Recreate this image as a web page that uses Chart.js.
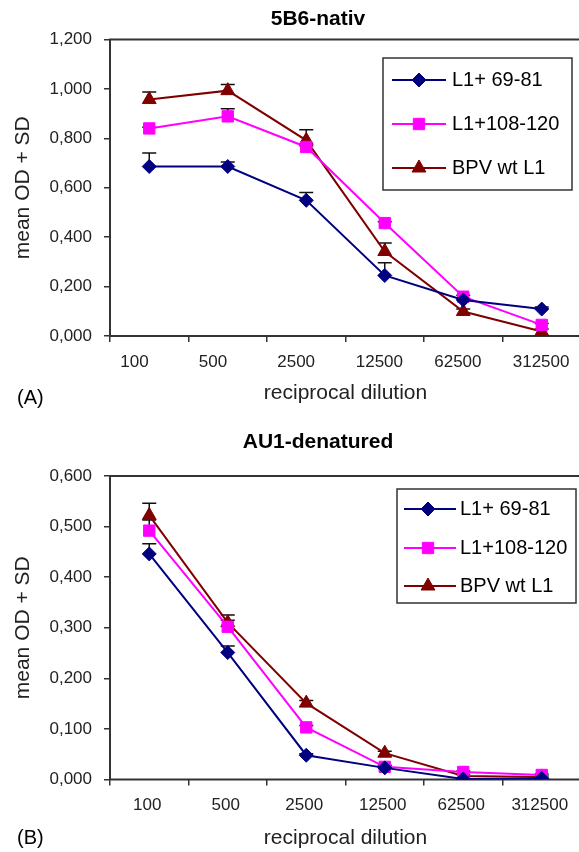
<!DOCTYPE html>
<html>
<head>
<meta charset="utf-8">
<script src="https://cdn.jsdelivr.net/npm/chart.js@4.4.1/dist/chart.umd.min.js"></script>
<style>
  html, body { margin: 0; padding: 0; background: #fff; overflow: hidden; width: 579px; height: 852px; }
  body { position: relative; font-family: "Liberation Sans", Arial, sans-serif; color: #000; }
  .panel { position: absolute; left: 0; width: 590px; }
  .title { position: absolute; left: 0; width: 636px; text-align: center; font-weight: bold; font-size: 21px; line-height: 24px; }
  .tag { position: absolute; left: 17px; font-size: 20px; line-height: 24px; }
</style>
</head>
<body>
<div class="panel" style="top:0;height:420px"><canvas id="chartA" width="590" height="420"></canvas></div>
<div class="panel" style="top:420px;height:432px"><canvas id="chartB" width="590" height="432"></canvas></div>
<div class="title" style="top:6px">5B6-nativ</div>
<div class="title" style="top:429px">AU1-denatured</div>
<div class="tag" style="top:385px">(A)</div>
<div class="tag" style="top:825px">(B)</div>

<script>
// categories + legend names
const dilutions = ['100', '500', '2500', '12500', '62500', '312500'];
const seriesNames = ['L1+ 69-81', 'L1+108-120', 'BPV wt L1'];

// (A) 5B6-nativ : mean OD and SD
const nativ69 = [0.686, 0.686, 0.549, 0.245, 0.146, 0.109];
const nativ108 = [0.840, 0.889, 0.765, 0.457, 0.159, 0.045];
const nativBpv = [0.957, 0.993, 0.792, 0.342, 0.099, 0.018];
const nativSd69 = [0.055, 0.018, 0.032, 0.051, 0.006, 0.008];
const nativSd108 = [0.005, 0.031, 0.005, 0.005, 0.006, 0.006];
const nativSdBpv = [0.031, 0.025, 0.043, 0.034, 0.010, 0.010];

// (B) AU1-denatured : mean OD and SD
const denat69 = [0.446, 0.251, 0.048, 0.023, 0.001, 0.002];
const denat108 = [0.492, 0.302, 0.103, 0.025, 0.015, 0.009];
const denatBpv = [0.522, 0.310, 0.151, 0.052, 0.007, 0.005];
const denatSd69 = [0.020, 0.013, 0.003, 0.002, 0.001, 0.001];
const denatSd108 = [0.021, 0.013, 0.004, 0.003, 0.002, 0.002];
const denatSdBpv = [0.024, 0.015, 0.005, 0.004, 0.003, 0.002];

const FONT = '"Liberation Sans", Arial, sans-serif';
const styles = [
    { color: '#000080', pointStyle: 'rectRot', radius: 7 },
    { color: '#ff00ff', pointStyle: 'rect', radius: 8 },
    { color: '#800000', pointStyle: 'triangle', radius: 8 }
];

function makeDatasets(values, sds) {
    return values.map((v, i) => ({
        label: seriesNames[i],
        data: v,
        sd: sds[i],
        borderColor: styles[i].color,
        backgroundColor: styles[i].color,
        borderWidth: 2,
        pointStyle: styles[i].pointStyle,
        pointRadius: styles[i].radius,
        pointBorderWidth: 1,
        tension: 0
    }));
}

// frame round the plot area
const frame = {
    id: 'frame',
    beforeDatasetsDraw(chart) {
        const { ctx, chartArea: a } = chart;
        ctx.save();
        ctx.strokeStyle = '#333';
        ctx.lineWidth = 2;
        ctx.strokeRect(a.left, a.top, a.right - a.left, a.bottom - a.top);
        ctx.restore();
    }
};

// upper error bars (mean + SD)
const errorBars = {
    id: 'errorBars',
    beforeDatasetsDraw(chart) {
        const ctx = chart.ctx;
        const yScale = chart.scales.y;
        ctx.save();
        ctx.strokeStyle = '#111';
        ctx.lineWidth = 1.5;
        chart.data.datasets.forEach((ds, i) => {
            const meta = chart.getDatasetMeta(i);
            meta.data.forEach((pt, j) => {
                const top = yScale.getPixelForValue(ds.data[j] + ds.sd[j]);
                ctx.beginPath();
                ctx.moveTo(pt.x, pt.y);
                ctx.lineTo(pt.x, top);
                ctx.moveTo(pt.x - 7, top);
                ctx.lineTo(pt.x + 7, top);
                ctx.stroke();
            });
        });
        ctx.restore();
    }
};

// boxed legend inside the plot area
const boxLegend = {
    id: 'boxLegend',
    afterDraw(chart, args, opts) {
        const { ctx, chartArea: a } = chart;
        const left = a.left + opts.x;
        const top = a.top + opts.y;
        ctx.save();
        ctx.fillStyle = '#fff';
        ctx.fillRect(left, top, opts.w, opts.h);
        ctx.strokeStyle = '#333';
        ctx.lineWidth = 1.5;
        ctx.strokeRect(left, top, opts.w, opts.h);
        chart.data.datasets.forEach((ds, i) => {
            const y = top + opts.rows[i];
            ctx.strokeStyle = ds.borderColor;
            ctx.fillStyle = ds.backgroundColor;
            ctx.lineWidth = 2;
            ctx.beginPath();
            ctx.moveTo(left + opts.lineFrom, y);
            ctx.lineTo(left + opts.lineTo, y);
            ctx.stroke();
            ctx.lineWidth = 1;
            Chart.helpers.drawPoint(ctx, { pointStyle: ds.pointStyle, radius: ds.pointRadius, borderWidth: 1, rotation: 0 }, left + opts.marker, y);
            ctx.fillStyle = '#000';
            ctx.font = '20px ' + FONT;
            ctx.textBaseline = 'middle';
            ctx.textAlign = 'left';
            ctx.fillText(ds.label, left + opts.text, y);
        });
        ctx.restore();
    }
};

function makeChart(id, values, sds, cfg) {
    return new Chart(document.getElementById(id), {
        type: 'line',
        data: { labels: dilutions, datasets: makeDatasets(values, sds) },
        plugins: [frame, errorBars, boxLegend],
        options: {
            responsive: false,
            animation: false,
            layout: { padding: { top: cfg.top, right: 6, left: 0, bottom: 0 } },
            plugins: {
                legend: { display: false },
                tooltip: { enabled: false },
                boxLegend: cfg.legend
            },
            scales: {
                x: {
                    offset: true,
                    grid: { offset: true, drawOnChartArea: false, tickLength: 6, color: '#333', lineWidth: 1.5 },
                    border: { display: false },
                    ticks: { color: '#222', font: { family: FONT, size: 17 }, padding: 10, align: cfg.labelAlign, labelOffset: cfg.labelOffset, maxRotation: 0, autoSkip: false },
                    title: { display: true, text: 'reciprocal dilution', color: '#222', font: { family: FONT, size: 21 }, padding: { top: 0, bottom: cfg.xTitlePad } },
                    afterFit: s => {
                        s.height = cfg.xHeight;
                        s.paddingLeft = 0;
                        s.paddingRight = 0;
                    }
                },
                y: {
                    min: 0,
                    max: cfg.max,
                    grid: { drawOnChartArea: false, tickLength: 6, color: '#333', lineWidth: 1.5 },
                    border: { display: false },
                    ticks: {
                        stepSize: cfg.step,
                        color: '#222',
                        font: { family: FONT, size: 17 },
                        padding: 12,
                        callback: v => v.toFixed(3).replace('.', ',')
                    },
                    title: { display: true, text: 'mean OD + SD', color: '#222', font: { family: FONT, size: 21 }, padding: { top: 11, bottom: 0 } },
                    afterFit: s => { s.width = 110; }
                }
            }
        }
    });
}

makeChart('chartA', [nativ69, nativ108, nativBpv], [nativSd69, nativSd108, nativSdBpv], {
    top: 39.5, max: 1.2, step: 0.2, xHeight: 84, xTitlePad: 14.5,
    labelAlign: 'start', labelOffset: -29,
    legend: { x: 273, y: 18.5, w: 189, h: 132, rows: [22, 66, 110], lineFrom: 9, lineTo: 63, marker: 36, text: 69 }
});

makeChart('chartB', [denat69, denat108, denatBpv], [denatSd69, denatSd108, denatSdBpv], {
    top: 56, max: 0.6, step: 0.1, xHeight: 72.5, xTitlePad: 1.5,
    labelAlign: 'center', labelOffset: -2,
    legend: { x: 287, y: 13, w: 179, h: 114, rows: [20, 59, 97], lineFrom: 7, lineTo: 59, marker: 31, text: 63 }
});
</script>
</body>
</html>
